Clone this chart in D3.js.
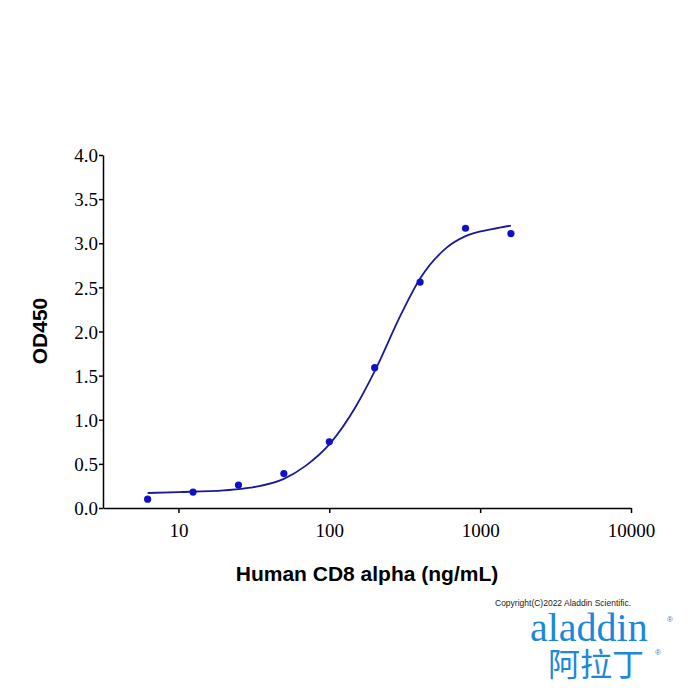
<!DOCTYPE html>
<html>
<head>
<meta charset="utf-8">
<script src="https://cdn.jsdelivr.net/npm/d3@7"></script>
<style>
body { margin: 0; background: #fff; }
</style>
</head>
<body>
<div id="chart"></div>
<script>
// measured points
const CONC = [6.25, 12.5, 25, 50, 100, 200, 400, 800, 1600];
const OD = [0.10, 0.18, 0.26, 0.39, 0.75, 1.59, 2.56, 3.17, 3.11];

// fitted curve
const FIT_X = [6.25, 10, 20, 30, 50, 70, 100, 150, 200, 300, 400, 600, 800, 1200, 1600];
const FIT_Y = [0.17, 0.18, 0.20, 0.23, 0.33, 0.48, 0.72, 1.15, 1.55, 2.20, 2.60, 2.95, 3.08, 3.16, 3.20];

const X_TICKS = [10, 100, 1000, 10000];
const Y_TICKS = [0, 0.5, 1.0, 1.5, 2.0, 2.5, 3.0, 3.5, 4.0];

let FRAME_WIDTH = 700, FRAME_HEIGHT = 700;
let MARGINS = {left: 103, right: 69, top: 155, bottom: 192};

let SVG = d3.select("#chart").append("svg")
    .attr("width", FRAME_WIDTH)
    .attr("height", FRAME_HEIGHT);

const X_SCALE = d3.scaleLog()
    .domain([Math.pow(10, 0.5), 10000])
    .range([MARGINS.left, FRAME_WIDTH - MARGINS.right]);
const Y_SCALE = d3.scaleLinear()
    .domain([0, 4])
    .range([FRAME_HEIGHT - MARGINS.bottom, MARGINS.top]);

// axes
let xAxis = SVG.append("g")
    .attr("transform", "translate(0," + (FRAME_HEIGHT - MARGINS.bottom) + ")")
    .call(d3.axisBottom(X_SCALE).tickValues(X_TICKS).tickFormat(d3.format("d")).tickSize(5).tickSizeOuter(0));
let yAxis = SVG.append("g")
    .attr("transform", "translate(" + MARGINS.left + ",0)")
    .call(d3.axisLeft(Y_SCALE).tickValues(Y_TICKS).tickFormat(d3.format(".1f")).tickSize(4).tickSizeOuter(0));

[xAxis, yAxis].forEach((a) => {
    a.selectAll("path, line").attr("stroke", "#000").attr("stroke-width", 1.5);
    a.selectAll("text")
        .attr("font-family", "Liberation Serif, serif")
        .attr("font-size", "19px")
        .attr("fill", "#000");
});
xAxis.selectAll("text").attr("dy", "1.1em");
yAxis.selectAll("text").attr("x", -5).attr("dy", "0.35em");

// fitted curve
SVG.append("path")
    .datum(FIT_X.map((x, i) => [x, FIT_Y[i]]))
    .attr("fill", "none")
    .attr("stroke", "#1a1a99")
    .attr("stroke-width", 1.8)
    .attr("d", d3.line()
        .x((d) => X_SCALE(d[0]))
        .y((d) => Y_SCALE(d[1]))
        .curve(d3.curveMonotoneX));

// points
SVG.selectAll("circle")
    .data(CONC)
    .enter()
    .append("circle")
    .attr("cx", (d) => X_SCALE(d))
    .attr("cy", (d, i) => Y_SCALE(OD[i]))
    .attr("r", 3.6)
    .attr("fill", "#1010c8");

// axis titles
SVG.append("text")
    .attr("x", 367).attr("y", 581)
    .attr("text-anchor", "middle")
    .attr("font-family", "Liberation Sans, Arial, sans-serif")
    .attr("font-weight", "bold").attr("font-size", "21px")
    .text("Human CD8 alpha (ng/mL)");
SVG.append("text")
    .attr("transform", "translate(47,331) rotate(-90)")
    .attr("text-anchor", "middle")
    .attr("font-family", "Liberation Sans, Arial, sans-serif")
    .attr("font-weight", "bold").attr("font-size", "21px")
    .text("OD450");

// watermark
SVG.append("text")
    .attr("x", 495).attr("y", 606)
    .attr("font-family", "Liberation Sans, Arial, sans-serif")
    .attr("font-size", "8.5px").attr("fill", "#222")
    .text("Copyright(C)2022 Aladdin Scientific.");
SVG.append("text")
    .attr("x", 530).attr("y", 641)
    .attr("font-family", "Liberation Serif, serif")
    .attr("font-size", "40px").attr("fill", "#1e88d8")
    .text("aladdin");
SVG.append("text")
    .attr("x", 667).attr("y", 622)
    .attr("font-family", "Liberation Sans, sans-serif")
    .attr("font-size", "8px").attr("fill", "#1e88d8")
    .text("®");
SVG.append("text")
    .attr("x", 548).attr("y", 676)
    .attr("font-family", "Noto Sans CJK SC")
    .attr("font-size", "32px").attr("fill", "#1e88d8")
    .text("阿拉丁");
SVG.append("text")
    .attr("x", 655).attr("y", 655)
    .attr("font-family", "Liberation Sans, sans-serif")
    .attr("font-size", "8px").attr("fill", "#1e88d8")
    .text("®");
</script>
</body>
</html>
